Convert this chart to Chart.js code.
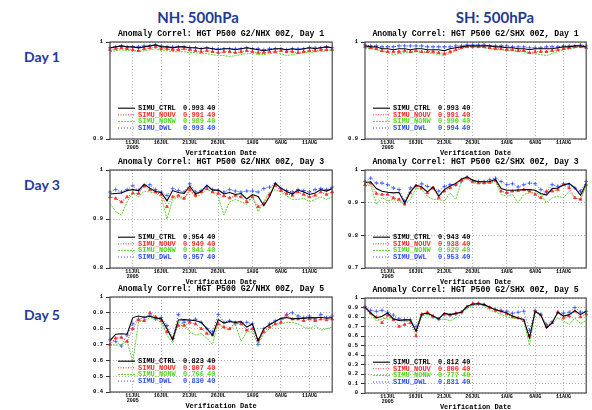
<!DOCTYPE html>
<html><head><meta charset="utf-8">
<script src="https://cdn.jsdelivr.net/npm/chart.js@4/dist/chart.umd.min.js"></script>
<style>
html,body{margin:0;padding:0;background:#fff;width:592px;height:410px;overflow:hidden;position:relative}
canvas{position:absolute}
.hd{position:absolute;font-family:Lato,'Open Sans',sans-serif;font-weight:bold;color:#1f3a93;white-space:nowrap;transform:translate(-50%,-50%);line-height:1}
</style></head><body>
<div class="hd" style="left:198px;top:17px;font-size:15px">NH: 500hPa</div>
<div class="hd" style="left:495px;top:17px;font-size:15px">SH: 500hPa</div>
<div class="hd" style="left:42px;top:57px;font-size:14px">Day 1</div>
<div class="hd" style="left:42px;top:185px;font-size:14px">Day 3</div>
<div class="hd" style="left:42px;top:315px;font-size:14px">Day 5</div>
<script>
// ---------- categories ----------
const dates = ['7JUL','8JUL','9JUL','10JUL','11JUL','12JUL','13JUL','14JUL','15JUL','16JUL',
  '17JUL','18JUL','19JUL','20JUL','21JUL','22JUL','23JUL','24JUL','25JUL','26JUL',
  '27JUL','28JUL','29JUL','30JUL','31JUL','1AUG','2AUG','3AUG','4AUG','5AUG',
  '6AUG','7AUG','8AUG','9AUG','10AUG','11AUG','12AUG','13AUG','14AUG','15AUG'];
const tickDates = ['11JUL','16JUL','21JUL','26JUL','1AUG','6AUG','11AUG'];
const yearLabel = '2005';
const seriesNames = ['SIMU_CTRL','SIMU_NOUV','SIMU_NONW','SIMU_DWL'];
const sampleCount = 40;

// ---------- NH Day 1 ----------
const nh1Ctrl = [0.994,0.995,0.996,0.995,0.995,0.994,0.995,0.996,0.997,0.995,0.995,0.994,0.995,0.995,0.994,0.994,0.993,0.994,0.993,0.992,0.993,0.993,0.992,0.993,0.994,0.993,0.992,0.991,0.992,0.993,0.993,0.992,0.993,0.992,0.993,0.994,0.993,0.994,0.995,0.994];
const nh1Nouv = [0.992,0.993,0.994,0.993,0.992,0.991,0.993,0.994,0.995,0.993,0.993,0.992,0.992,0.993,0.992,0.991,0.990,0.991,0.990,0.989,0.990,0.990,0.989,0.990,0.991,0.990,0.989,0.989,0.990,0.990,0.991,0.990,0.990,0.989,0.990,0.991,0.991,0.992,0.992,0.992];
const nh1Nonw = [0.990,0.991,0.992,0.991,0.991,0.990,0.991,0.992,0.993,0.991,0.991,0.990,0.990,0.990,0.989,0.989,0.988,0.988,0.987,0.986,0.986,0.985,0.986,0.987,0.988,0.988,0.987,0.987,0.988,0.989,0.988,0.986,0.987,0.988,0.989,0.989,0.990,0.990,0.991,0.991];
const nh1Dwl  = [0.994,0.995,0.996,0.995,0.995,0.995,0.996,0.996,0.997,0.996,0.995,0.995,0.995,0.995,0.994,0.994,0.993,0.994,0.993,0.993,0.993,0.993,0.993,0.993,0.994,0.993,0.993,0.992,0.993,0.993,0.993,0.992,0.993,0.993,0.993,0.994,0.994,0.994,0.995,0.994];
const nh1Scores = [0.993,0.991,0.989,0.993];

// ---------- SH Day 1 ----------
const sh1Ctrl = [0.996,0.995,0.995,0.993,0.993,0.992,0.993,0.993,0.992,0.993,0.993,0.992,0.992,0.992,0.991,0.993,0.994,0.995,0.996,0.996,0.996,0.996,0.996,0.995,0.995,0.994,0.994,0.993,0.993,0.992,0.993,0.993,0.993,0.993,0.994,0.995,0.995,0.996,0.996,0.995];
const sh1Nouv = [0.995,0.994,0.993,0.991,0.990,0.990,0.990,0.991,0.990,0.991,0.990,0.990,0.990,0.989,0.988,0.990,0.992,0.994,0.995,0.995,0.995,0.995,0.994,0.993,0.993,0.992,0.992,0.991,0.991,0.989,0.990,0.990,0.990,0.991,0.992,0.993,0.994,0.995,0.995,0.994];
const sh1Nonw = [0.994,0.993,0.992,0.990,0.989,0.987,0.988,0.989,0.989,0.990,0.989,0.989,0.988,0.987,0.986,0.988,0.991,0.993,0.995,0.995,0.995,0.994,0.993,0.992,0.992,0.991,0.991,0.990,0.990,0.988,0.988,0.987,0.986,0.988,0.990,0.992,0.993,0.994,0.995,0.994];
const sh1Dwl  = [0.997,0.996,0.996,0.995,0.995,0.995,0.996,0.996,0.996,0.996,0.996,0.995,0.995,0.995,0.995,0.995,0.996,0.996,0.997,0.997,0.997,0.997,0.996,0.996,0.996,0.996,0.995,0.995,0.995,0.994,0.994,0.994,0.995,0.995,0.995,0.996,0.996,0.996,0.997,0.996];
const sh1Scores = [0.993,0.991,0.990,0.994];

// ---------- NH Day 3 ----------
const nh3Ctrl = [0.951,0.952,0.953,0.958,0.960,0.958,0.971,0.963,0.956,0.954,0.937,0.958,0.954,0.952,0.967,0.951,0.956,0.969,0.959,0.959,0.951,0.954,0.950,0.952,0.941,0.950,0.946,0.927,0.946,0.973,0.963,0.956,0.951,0.959,0.955,0.950,0.953,0.960,0.957,0.962];
const nh3Nouv = [0.945,0.942,0.935,0.945,0.953,0.952,0.967,0.960,0.955,0.950,0.925,0.945,0.948,0.942,0.960,0.948,0.955,0.962,0.955,0.952,0.947,0.943,0.948,0.945,0.935,0.945,0.925,0.932,0.950,0.968,0.958,0.952,0.948,0.955,0.950,0.945,0.948,0.955,0.950,0.955];
const nh3Nonw = [0.932,0.915,0.908,0.935,0.953,0.945,0.957,0.955,0.953,0.945,0.900,0.940,0.945,0.940,0.958,0.945,0.950,0.960,0.955,0.945,0.908,0.935,0.940,0.935,0.930,0.945,0.915,0.935,0.955,0.960,0.955,0.947,0.940,0.940,0.942,0.935,0.940,0.945,0.940,0.945];
const nh3Dwl  = [0.955,0.960,0.955,0.960,0.968,0.958,0.968,0.970,0.960,0.955,0.948,0.962,0.958,0.955,0.972,0.955,0.958,0.966,0.960,0.958,0.955,0.960,0.957,0.955,0.957,0.957,0.955,0.962,0.965,0.972,0.962,0.958,0.955,0.960,0.958,0.955,0.960,0.962,0.960,0.965];
const nh3Scores = [0.954,0.949,0.941,0.957];

// ---------- SH Day 3 ----------
const sh3Ctrl = [0.961,0.964,0.943,0.935,0.932,0.930,0.931,0.899,0.933,0.954,0.948,0.933,0.948,0.920,0.940,0.951,0.959,0.972,0.979,0.969,0.964,0.964,0.965,0.971,0.943,0.938,0.938,0.939,0.940,0.940,0.938,0.928,0.923,0.943,0.945,0.954,0.959,0.945,0.923,0.959];
const sh3Nouv = [0.955,0.960,0.928,0.925,0.925,0.915,0.910,0.895,0.930,0.952,0.945,0.930,0.945,0.915,0.935,0.945,0.955,0.970,0.975,0.965,0.960,0.960,0.962,0.968,0.935,0.930,0.935,0.937,0.940,0.935,0.925,0.915,0.935,0.935,0.940,0.955,0.945,0.915,0.910,0.955];
const sh3Nonw = [0.950,0.955,0.895,0.915,0.905,0.910,0.905,0.895,0.910,0.945,0.940,0.920,0.910,0.910,0.905,0.930,0.910,0.965,0.975,0.960,0.960,0.960,0.960,0.965,0.925,0.920,0.925,0.900,0.925,0.930,0.930,0.925,0.900,0.915,0.920,0.915,0.935,0.915,0.910,0.955];
const sh3Dwl  = [0.965,0.975,0.960,0.960,0.955,0.945,0.940,0.905,0.945,0.950,0.958,0.950,0.945,0.935,0.950,0.955,0.955,0.965,0.978,0.965,0.965,0.965,0.970,0.975,0.965,0.955,0.958,0.948,0.955,0.960,0.958,0.940,0.932,0.955,0.950,0.958,0.955,0.945,0.935,0.965];
const sh3Scores = [0.943,0.938,0.929,0.953];

// ---------- NH Day 5 ----------
const nh5Ctrl = [0.725,0.765,0.768,0.765,0.870,0.880,0.872,0.878,0.868,0.862,0.800,0.730,0.855,0.857,0.855,0.850,0.840,0.800,0.758,0.858,0.835,0.845,0.840,0.845,0.810,0.830,0.722,0.800,0.825,0.845,0.865,0.870,0.862,0.866,0.865,0.870,0.868,0.872,0.866,0.870];
const nh5Nouv = [0.700,0.740,0.745,0.720,0.800,0.855,0.850,0.900,0.875,0.850,0.780,0.740,0.820,0.820,0.840,0.830,0.800,0.770,0.760,0.830,0.810,0.800,0.840,0.830,0.790,0.800,0.730,0.780,0.810,0.830,0.840,0.885,0.860,0.860,0.850,0.860,0.850,0.860,0.855,0.860];
const nh5Nonw = [0.700,0.695,0.700,0.720,0.590,0.845,0.850,0.870,0.860,0.840,0.760,0.710,0.840,0.830,0.780,0.760,0.770,0.740,0.700,0.840,0.800,0.790,0.830,0.720,0.780,0.780,0.700,0.770,0.800,0.830,0.830,0.840,0.840,0.830,0.810,0.800,0.820,0.790,0.800,0.810];
const nh5Dwl  = [0.730,0.720,0.690,0.760,0.830,0.860,0.870,0.885,0.860,0.870,0.820,0.740,0.890,0.840,0.850,0.860,0.840,0.800,0.780,0.890,0.840,0.850,0.830,0.840,0.840,0.830,0.700,0.800,0.830,0.850,0.860,0.890,0.900,0.880,0.870,0.880,0.860,0.890,0.870,0.880];
const nh5Scores = [0.823,0.807,0.766,0.830];

// ---------- SH Day 5 ----------
const sh5Ctrl = [0.905,0.842,0.790,0.807,0.842,0.780,0.765,0.770,0.770,0.650,0.830,0.842,0.810,0.780,0.840,0.825,0.838,0.850,0.912,0.937,0.940,0.930,0.902,0.877,0.860,0.842,0.810,0.790,0.775,0.580,0.860,0.820,0.684,0.737,0.850,0.810,0.825,0.867,0.825,0.860];
const sh5Nouv = [0.900,0.840,0.800,0.740,0.820,0.770,0.700,0.720,0.740,0.600,0.830,0.850,0.810,0.780,0.830,0.820,0.840,0.850,0.910,0.940,0.945,0.930,0.900,0.870,0.860,0.830,0.800,0.790,0.760,0.600,0.860,0.820,0.700,0.740,0.850,0.790,0.810,0.860,0.800,0.830];
const sh5Nonw = [0.890,0.830,0.760,0.780,0.790,0.790,0.760,0.750,0.760,0.650,0.810,0.830,0.800,0.770,0.780,0.760,0.790,0.830,0.900,0.920,0.930,0.920,0.870,0.850,0.830,0.800,0.790,0.780,0.760,0.500,0.850,0.820,0.710,0.730,0.790,0.760,0.720,0.790,0.730,0.760];
const sh5Dwl  = [0.910,0.870,0.860,0.870,0.850,0.820,0.780,0.770,0.770,0.700,0.820,0.840,0.800,0.780,0.830,0.820,0.830,0.850,0.900,0.930,0.940,0.930,0.900,0.880,0.870,0.860,0.840,0.850,0.860,0.660,0.870,0.830,0.720,0.750,0.850,0.840,0.850,0.900,0.850,0.860];
const sh5Scores = [0.812,0.800,0.777,0.831];

// ---------- layout / styles ----------
const MONO = "'Liberation Mono','DejaVu Sans Mono',monospace";
const YW = 24, TOP = 16, XH = 18, RP = 4;
const styles = [
  {borderColor:'#000000', borderWidth:1.1, pointRadius:0, dash:[]},
  {borderColor:'#ff2a2a', borderWidth:1, pointRadius:1.6, pointStyle:'triangle', dash:[1,1.5]},
  {borderColor:'#55d622', borderWidth:1, pointRadius:0, dash:[2,1]},
  {borderColor:'#2f4fff', borderWidth:1, pointRadius:2, pointStyle:'cross', dash:[1,2]}
];
const textColors = ['#000000','#ff2a2a','#55d622','#2f4fff'];

const panels = [
  {title:'Anomaly Correl: HGT P500 G2/NHX 00Z, Day 1', plotLeft:110, plotW:223, plotTop:42, plotH:97, yMin:0.9, yMax:1, series:[nh1Ctrl,nh1Nouv,nh1Nonw,nh1Dwl], scores:nh1Scores},
  {title:'Anomaly Correl: HGT P500 G2/SHX 00Z, Day 1', plotLeft:365, plotW:222, plotTop:42, plotH:97, yMin:0.9, yMax:1, series:[sh1Ctrl,sh1Nouv,sh1Nonw,sh1Dwl], scores:sh1Scores},
  {title:'Anomaly Correl: HGT P500 G2/NHX 00Z, Day 3', plotLeft:110, plotW:223, plotTop:170, plotH:98, yMin:0.8, yMax:1, series:[nh3Ctrl,nh3Nouv,nh3Nonw,nh3Dwl], scores:nh3Scores},
  {title:'Anomaly Correl: HGT P500 G2/SHX 00Z, Day 3', plotLeft:365, plotW:222, plotTop:170, plotH:98, yMin:0.7, yMax:1, series:[sh3Ctrl,sh3Nouv,sh3Nonw,sh3Dwl], scores:sh3Scores},
  {title:'Anomaly Correl: HGT P500 G2/NHX 00Z, Day 5', plotLeft:110, plotW:223, plotTop:297, plotH:95, yMin:0.4, yMax:1, series:[nh5Ctrl,nh5Nouv,nh5Nonw,nh5Dwl], scores:nh5Scores},
  {title:'Anomaly Correl: HGT P500 G2/SHX 00Z, Day 5', plotLeft:365, plotW:222, plotTop:298, plotH:95, yMin:0.0, yMax:1, series:[sh5Ctrl,sh5Nouv,sh5Nonw,sh5Dwl], scores:sh5Scores}
];

const gradsPlugin = {
  id:'grads',
  afterDraw(chart, args, opts){
    const {ctx, chartArea:a} = chart;
    ctx.save();
    // frame
    ctx.setLineDash([]);
    ctx.strokeStyle = '#4a4a4a';
    ctx.lineWidth = 1.2;
    ctx.strokeRect(a.left, a.top, a.right - a.left, a.bottom - a.top);
    // title
    ctx.fillStyle = '#000';
    ctx.font = 'bold 8.2px ' + MONO;
    ctx.textAlign = 'center';
    ctx.textBaseline = 'middle';
    ctx.fillText(opts.title, (a.left + a.right) / 2, a.top - 8);
    // legend
    ctx.font = 'bold 7px ' + MONO;
    ctx.textAlign = 'left';
    for (let k = 0; k < 4; k++) {
      const y = a.bottom - 11 - (3 - k) * 6.6;
      const st = styles[k];
      ctx.strokeStyle = st.borderColor;
      ctx.lineWidth = k === 0 ? 1.1 : 1;
      ctx.setLineDash(st.dash);
      ctx.beginPath();
      ctx.moveTo(a.left + 8, y);
      ctx.lineTo(a.left + 25, y);
      ctx.stroke();
      ctx.setLineDash([]);
      ctx.fillStyle = textColors[k];
      ctx.fillText(seriesNames[k], a.left + 28, y);
      ctx.fillText(opts.scores[k].toFixed(3), a.left + 73, y);
      ctx.fillText(String(sampleCount), a.left + 97, y);
    }
    ctx.restore();
  }
};

function makePanel(p){
  const c = document.createElement('canvas');
  const W = YW + p.plotW + RP, H = TOP + p.plotH + XH;
  c.width = W; c.height = H;
  c.style.width = W + 'px'; c.style.height = H + 'px';
  c.style.left = (p.plotLeft - YW) + 'px';
  c.style.top = (p.plotTop - TOP) + 'px';
  document.body.appendChild(c);
  new Chart(c, {
    type:'line',
    data:{
      labels:dates,
      datasets:p.series.map((s,k)=>({
        label:seriesNames[k], data:s,
        borderColor:styles[k].borderColor, backgroundColor:styles[k].borderColor,
        borderWidth:styles[k].borderWidth, borderDash:styles[k].dash,
        pointRadius:styles[k].pointRadius, pointStyle:styles[k].pointStyle || 'circle',
        pointBorderWidth:0.8, pointBorderColor:styles[k].borderColor, pointBackgroundColor:styles[k].borderColor,
        tension:0, fill:false
      }))
    },
    options:{
      responsive:false, animation:false, devicePixelRatio:1,
      layout:{padding:{top:TOP, right:RP, left:0, bottom:0}},
      plugins:{legend:{display:false}, tooltip:{enabled:false}, grads:{title:p.title, scores:p.scores}},
      scales:{
        x:{
          type:'category', offset:false,
          grid:{color:ctx => (ctx.tick && tickDates.includes(dates[ctx.tick.value])) ? '#9c9c9c' : 'rgba(0,0,0,0)', drawTicks:false, lineWidth:0.8},
          border:{display:false, dash:[1,2]},
          ticks:{autoSkip:false, maxRotation:0, minRotation:0, padding:1.5, color:'#000',
            font:{family:MONO, size:5, weight:'bold', lineHeight:1},
            callback:(v,i)=>{ const d = dates[i]; if(!tickDates.includes(d)) return ''; return d === tickDates[0] ? [d, yearLabel] : d; }},
          title:{display:true, text:'Verification Date', color:'#000', padding:0, font:{family:MONO, size:7, weight:'bold', lineHeight:1}},
          afterFit:s=>{ s.height = XH; }
        },
        y:{
          min:p.yMin, max:p.yMax,
          grid:{color:'#9c9c9c', lineWidth:0.8, drawTicks:true, tickLength:4, tickColor:'#333', tickWidth:1},
          border:{display:false, dash:[1,2]},
          ticks:{stepSize:0.1, padding:3, color:'#000', font:{family:MONO, size:5.5, weight:'bold', lineHeight:1},
            callback:v=>String(Number(v.toFixed(2)))},
          afterFit:s=>{ s.width = YW; }
        }
      }
    },
    plugins:[gradsPlugin]
  });
}
panels.forEach(makePanel);
</script>
</body></html>
